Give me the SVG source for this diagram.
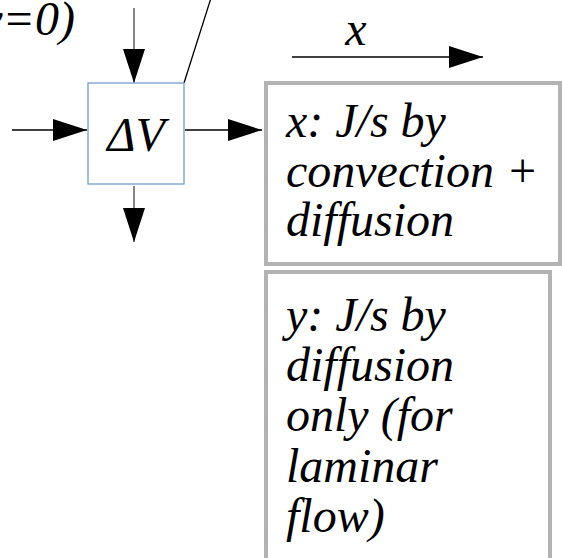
<svg xmlns="http://www.w3.org/2000/svg" width="562" height="558" viewBox="0 0 562 558">
<style>
.t{font-family:"Liberation Serif","Times New Roman",serif;font-style:italic;font-size:48px;fill:#000}
.ln{stroke:#000;stroke-width:1.3;fill:none}
.vb{stroke:#444;stroke-width:1.3;fill:none}
.gbox{fill:#fff;stroke:#b3b3b3;stroke-width:4}
</style>
<defs>
<marker id="ah" markerUnits="userSpaceOnUse" markerWidth="34" markerHeight="22" refX="34" refY="11" orient="auto">
<path d="M0,0 L34,11 L0,22 Z" fill="#000"/>
</marker>
</defs>
<rect width="562" height="558" fill="#fff"/>
<g id="label-y0">
<text class="t" x="75" y="35" text-anchor="end">y=0)</text>
</g>
<g id="label-x">
<text class="t" x="356" y="45" text-anchor="middle">x</text>
</g>
<g id="connectors">
<line class="vb" x1="134" y1="8" x2="134" y2="83" marker-end="url(#ah)"/>
<line class="ln" x1="12" y1="130" x2="87" y2="130" marker-end="url(#ah)"/>
<line class="ln" x1="185" y1="130" x2="262" y2="130" marker-end="url(#ah)"/>
<line class="vb" x1="134" y1="186" x2="134" y2="242" marker-end="url(#ah)"/>
<line class="ln" x1="184" y1="83" x2="211" y2="-2"/>
<line class="ln" x1="292" y1="57" x2="483" y2="57" marker-end="url(#ah)"/>
</g>
<g id="dV">
<rect x="88" y="83" width="96" height="101" fill="#fff" stroke="#729fcf" stroke-width="1.3"/>
<text class="t" x="136" y="151" text-anchor="middle">ΔV</text>
</g>
<g id="box-x">
<rect class="gbox" x="266" y="83" width="294" height="181"/>
<text class="t" x="286" y="137">x: J/s by</text>
<text class="t" x="286" y="187">convection +</text>
<text class="t" x="286" y="236">diffusion</text>
</g>
<g id="box-y">
<rect class="gbox" x="266" y="272" width="284" height="300"/>
<text class="t" x="286" y="331">y: J/s by</text>
<text class="t" x="286" y="381">diffusion</text>
<text class="t" x="286" y="431">only (for</text>
<text class="t" x="286" y="482">laminar</text>
<text class="t" x="286" y="532">flow)</text>
</g>
</svg>
